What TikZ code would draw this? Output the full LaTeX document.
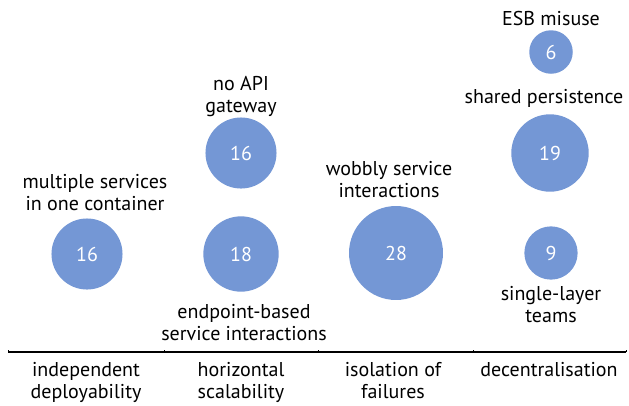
\documentclass[tikz,border=0pt]{standalone}
\usepackage{fontspec}
\setmainfont{PT Sans}
\usetikzlibrary{positioning}
\definecolor{bubblefill}{RGB}{116,151,213}
\tikzset{%
	bubble/.style = {circle, fill=bubblefill, text=white, inner sep=0pt,
		/utils/exec={\pgfmathsetmacro\bsize{17.76*sqrt(#1)}}, minimum size=\bsize pt}, % area ~ count
	label/.style  = {align=center, inner sep=0pt, anchor=base}, % base = last line
	axis/.style   = {line width=1.4pt, line cap=butt},
	tick/.style   = {line width=0.8pt},
}
\begin{document}
\begin{tikzpicture}[x=1pt, y=-1pt, every node/.style={font=\fontsize{20}{22}\selectfont}]
	\useasboundingbox (0,0) rectangle (629,405);
	% bubbles
	\node[bubble=16] (multi) at (87,254) {16};
	\node[bubble=16] (noapi) at (241,153) {16};
	\node[bubble=18] (endpt) at (241,254) {18};
	\node[bubble=28] (wobbly) at (396,253) {28};
	\node[bubble=6]  (esb) at (551,52) {6};
	\node[bubble=19] (shared) at (550,153) {19};
	\node[bubble=9]  (single) at (551,253) {9};
	% bubble labels
	\node[label] (multiL) at (95,210) {multiple services\\in one container};
	\node[label] (noapiL) at (241,112) {no API\\gateway};
	\node[label] (endptL) at (244,340) {endpoint-based\\service interactions};
	\node[label] (wobblyL) at (389,197) {wobbly service\\interactions};
	\node[label] (esbL) at (551,25) {ESB misuse};
	\node[label] (sharedL) at (544,103) {shared persistence};
	\node[label] (singleL) at (551,322) {single-layer\\teams};
	% axis
	\coordinate (axL) at (8,352);
	\coordinate (axR) at (626,352);
	\draw[axis] (axL) -- (axR);
	\foreach \t in {8,164,318,473,626}
		\draw[tick] (\t,352) -- ++(0,-2.5);
	% categories
	\node[label] (depl) at (86,398) {independent\\deployability};
	\node[label] (scal) at (241,398) {horizontal\\scalability};
	\node[label] (isol) at (393,398) {isolation of\\failures};
	\node[label] (dece) at (549,376) {decentralisation};
\end{tikzpicture}
\end{document}
